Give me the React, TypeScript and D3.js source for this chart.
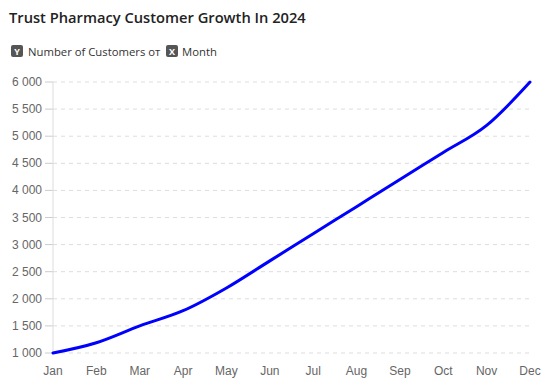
import React from "react";
import * as d3 from "d3";

const months = ["Jan","Feb","Mar","Apr","May","Jun","Jul","Aug","Sep","Oct","Nov","Dec"];
const customers = [1000, 1190, 1500, 1780, 2200, 2700, 3200, 3700, 4200, 4700, 5200, 6000];
const yTicks = [1000, 1500, 2000, 2500, 3000, 3500, 4000, 4500, 5000, 5500, 6000];
const title = "Trust Pharmacy Customer Growth In 2024";
const yName = "Number of Customers";
const xName = "Month";

const W = 557, H = 392;
const left = 53, right = 530, top = 82, bottom = 353;

export default function App() {
  const x = d3.scalePoint<string>().domain(months).range([left, right]);
  const y = d3.scaleLinear().domain([1000, 6000]).range([bottom, top]);
  const fmt = (v: number) => d3.format(",")(v).replace(/,/g, " ");
  const line = d3.line<number>()
    .x((_, i) => x(months[i]) as number)
    .y((d) => y(d))
    .curve(d3.curveMonotoneX);
  const axisFont = "'Liberation Sans', Arial, sans-serif";
  const uiFont = "'Open Sans', 'Noto Sans', sans-serif";
  return (
    <svg width={W} height={H} style={{ position: "absolute", left: 0, top: 0, background: "#fff" }}>
      <text x={9} y={23} fontFamily={uiFont} fontSize={14.7} fontWeight={600} fill="#222">{title}</text>
      <g fontFamily={uiFont} fontSize={11.3}>
        <rect x={11} y={45} width={12} height={12} rx={2} fill="#555" />
        <text x={17} y={54.5} textAnchor="middle" fontSize={9} fontWeight={700} fill="#fff">Y</text>
        <text x={28} y={56} fill="#333">{yName + " от"}</text>
        <rect x={166} y={45} width={12} height={12} rx={2} fill="#555" />
        <text x={172} y={54.5} textAnchor="middle" fontSize={9} fontWeight={700} fill="#fff">X</text>
        <text x={182} y={56} fill="#333">{xName}</text>
      </g>
      {yTicks.map((t) => (
        <g key={t}>
          <line x1={left} x2={right} y1={y(t)} y2={y(t)} stroke="#ddd" strokeDasharray="4 4" />
          <line x1={left - 8} x2={left} y1={y(t)} y2={y(t)} stroke="#ccc" />
          <text x={left - 11} y={y(t) + 4} textAnchor="end" fontFamily={axisFont} fontSize={12} fill="#666">{fmt(t)}</text>
        </g>
      ))}
      <line x1={left} x2={left} y1={top} y2={bottom} stroke="#ddd" />
      {months.map((m) => (
        <text key={m} x={x(m) as number} y={375} textAnchor="middle" fontFamily={axisFont} fontSize={12} fill="#666">{m}</text>
      ))}
      <path d={line(customers) || ""} fill="none" stroke="#0000ff" strokeWidth={3} strokeLinejoin="round" strokeLinecap="round" />
    </svg>
  );
}
